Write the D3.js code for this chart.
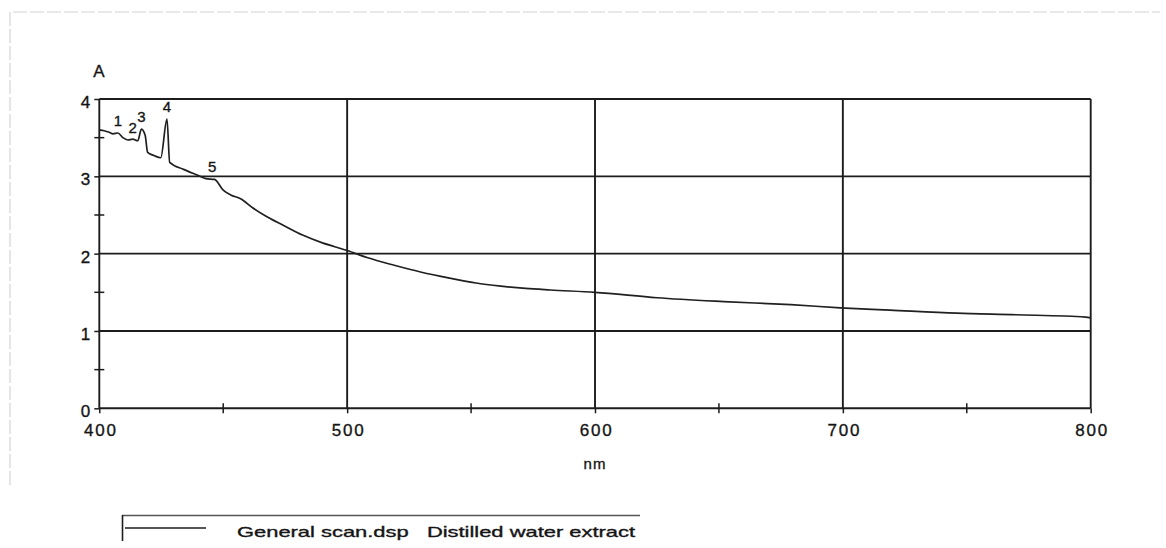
<!DOCTYPE html>
<html>
<head>
<meta charset="utf-8">
<script src="https://cdn.jsdelivr.net/npm/d3@7"></script>
<style>
  body { margin: 0; background: #fff; }
  svg text { font-family: "Liberation Sans", Arial, sans-serif; fill: #151515; stroke: #151515; stroke-width: 0.35px; }
</style>
</head>
<body>
<div id="chart"></div>
<script>
// wavelength (nm) / absorbance pairs
const wavelengths = [400, 402, 404, 405.5, 407.5, 409.5, 411.5, 413.5, 415.5, 417, 418.5, 419.5, 422, 424.8, 427.3, 428.4,
  434, 440, 443, 446.5, 450, 453, 457, 462, 468, 474, 482, 490, 495, 500, 508, 519, 530, 542, 552, 562, 572, 582,
  600, 625, 652, 679, 699, 719, 746, 770, 798, 800];
const absorbance = [3.60, 3.59, 3.57, 3.55, 3.56, 3.50, 3.47, 3.48, 3.46, 3.61, 3.53, 3.31, 3.27, 3.24, 3.74, 3.18,
  3.09, 3.01, 2.97, 2.96, 2.82, 2.76, 2.71, 2.59, 2.47, 2.37, 2.24, 2.14, 2.09, 2.04, 1.95, 1.85, 1.76, 1.68, 1.62, 1.58, 1.55, 1.53,
  1.50, 1.43, 1.38, 1.34, 1.30, 1.27, 1.23, 1.21, 1.18, 1.17];

// numbered peaks
const peakLabels = ["1", "2", "3", "4", "5"];
const peakNm = [407.5, 413.5, 417, 427.3, 445.5];
const peakA = [3.56, 3.47, 3.61, 3.74, 2.97];

const xTicks = [400, 500, 600, 700, 800];
const xMinor = [450, 550, 650, 750];
const yTicks = [0, 1, 2, 3, 4];
const yMinor = [0.5, 1.5, 2.5, 3.5];

const yLabel = "A";
const xLabel = "nm";
const legendText = "General scan.dsp   Distilled water extract";

const W = 1166, H = 548;
const svg = d3.select('#chart').append('svg')
  .attr('width', W).attr('height', H);

svg.append('rect').attr('width', W).attr('height', H).attr('fill', '#fff');

// faint page frame from the scan
svg.append('path')
  .attr('d', 'M10,485 L10,12 L1160,12')
  .attr('fill', 'none')
  .attr('stroke', '#d4d4d4')
  .attr('stroke-width', 1.2)
  .attr('stroke-dasharray', '14,3');

const x = d3.scaleLinear().domain([400, 800]).range([99.3, 1090.7]);
const y = d3.scaleLinear().domain([0, 4]).range([408.3, 99]);

const ink = '#1c1c1c';

// grid
svg.append('g').selectAll('line.h')
  .data(yTicks).enter().append('line')
  .attr('x1', x(400)).attr('x2', x(800))
  .attr('y1', d => y(d)).attr('y2', d => y(d))
  .attr('stroke', ink).attr('stroke-width', 1.9);

svg.append('g').selectAll('line.v')
  .data(xTicks).enter().append('line')
  .attr('x1', d => x(d)).attr('x2', d => x(d))
  .attr('y1', y(0)).attr('y2', y(4))
  .attr('stroke', ink).attr('stroke-width', 1.9);

// axes with labels
const yAxis = svg.append('g')
  .attr('transform', `translate(${x(400)},0)`)
  .call(d3.axisLeft(y).tickValues(yTicks).tickSize(5).tickPadding(4).tickFormat(d3.format('d')));
yAxis.select('.domain').remove();
yAxis.selectAll('line').attr('stroke', ink).attr('stroke-width', 1.5);
yAxis.selectAll('text')
  .style('font-size', '17px').attr('dy', '0.5em').attr('fill', '#151515');

const xAxis = svg.append('g')
  .attr('transform', `translate(0,${y(0)})`)
  .call(d3.axisBottom(x).tickValues(xTicks).tickSize(5).tickPadding(11).tickFormat(d3.format('d')));
xAxis.select('.domain').remove();
xAxis.selectAll('line').attr('stroke', ink).attr('stroke-width', 1.5);
xAxis.selectAll('text')
  .style('font-size', '17px').style('letter-spacing', '1.8px')
  .attr('dx', '1px').attr('fill', '#151515');

// minor ticks crossing the axes
svg.append('g').selectAll('line')
  .data(yMinor).enter().append('line')
  .attr('x1', x(400) - 5).attr('x2', x(400) + 5)
  .attr('y1', d => y(d)).attr('y2', d => y(d))
  .attr('stroke', ink).attr('stroke-width', 1.5);

svg.append('g').selectAll('line')
  .data(xMinor).enter().append('line')
  .attr('x1', d => x(d)).attr('x2', d => x(d))
  .attr('y1', y(0) - 5).attr('y2', y(0) + 5)
  .attr('stroke', ink).attr('stroke-width', 1.5);

// axis titles
svg.append('text')
  .attr('x', 99).attr('y', 77)
  .attr('text-anchor', 'middle')
  .style('font-size', '17px')
  .text(yLabel);

svg.append('text')
  .attr('x', x(600)).attr('y', 469)
  .attr('text-anchor', 'middle')
  .style('font-size', '15px').style('letter-spacing', '1px')
  .text(xLabel);

// spectrum
const pts = wavelengths.map((w, i) => [w, absorbance[i]]);
const line = d3.line().x(d => x(d[0])).y(d => y(d[1])).curve(d3.curveMonotoneX);
svg.append('path')
  .datum(pts)
  .attr('d', line)
  .attr('fill', 'none')
  .attr('stroke', '#202020')
  .attr('stroke-width', 1.7)
  .attr('stroke-linejoin', 'round');

// peak numbers
svg.append('g').selectAll('text')
  .data(peakLabels).enter().append('text')
  .attr('x', (d, i) => x(peakNm[i]))
  .attr('y', (d, i) => y(peakA[i]) - 7)
  .attr('text-anchor', 'middle')
  .style('font-size', '15px')
  .text(d => d);

// legend
const lg = svg.append('g');
lg.append('line')
  .attr('x1', 122).attr('x2', 640).attr('y1', 515.5).attr('y2', 515.5)
  .attr('stroke', '#555').attr('stroke-width', 1.4);
lg.append('line')
  .attr('x1', 122.5).attr('x2', 122.5).attr('y1', 515).attr('y2', 541)
  .attr('stroke', ink).attr('stroke-width', 1.6);
lg.append('line')
  .attr('x1', 125).attr('x2', 206).attr('y1', 528).attr('y2', 528)
  .attr('stroke', ink).attr('stroke-width', 1.6);
lg.append('text')
  .attr('x', 237).attr('y', 537)
  .attr('textLength', 398).attr('lengthAdjust', 'spacingAndGlyphs')
  .style('font-size', '15px').style('white-space', 'pre')
  .text(legendText);
</script>
</body>
</html>
